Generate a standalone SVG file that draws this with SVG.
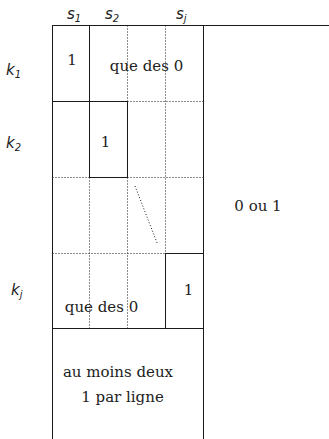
<svg xmlns="http://www.w3.org/2000/svg" width="329" height="439" viewBox="0 0 329 439">
<style>
.s{stroke:#1a1a1a;stroke-width:1;fill:none}
.d{stroke:#1a1a1a;stroke-width:1;fill:none;stroke-dasharray:1 2}
.t{font-family:'DejaVu Serif','Liberation Serif',serif;font-size:15px;fill:#222;text-anchor:middle}
.l{font-family:'DejaVu Sans','Liberation Sans',sans-serif;font-style:italic;font-size:15px;fill:#222}
.sub{font-size:10px}
</style>
<rect width="329" height="439" fill="#fff"/>
<g id="connectors">
<line class="d" x1="127.5" y1="25.5" x2="127.5" y2="101.5"/>
<line class="d" x1="165.5" y1="25.5" x2="165.5" y2="253.5"/>
<line class="d" x1="127.5" y1="101.5" x2="203.5" y2="101.5"/>
<line class="d" x1="52.5" y1="177.5" x2="89.5" y2="177.5"/>
<line class="d" x1="127.5" y1="177.5" x2="203.5" y2="177.5"/>
<line class="d" x1="89.5" y1="177.5" x2="89.5" y2="328.5"/>
<line class="d" x1="127.5" y1="177.5" x2="127.5" y2="328.5"/>
<line class="d" x1="52.5" y1="253.5" x2="165.5" y2="253.5"/>
<line class="d" x1="135" y1="186" x2="157.5" y2="244"/>
</g>
<g id="frame">
<line class="s" x1="52.5" y1="25.5" x2="329" y2="25.5"/>
<line class="s" x1="52.5" y1="25.5" x2="52.5" y2="439"/>
<line class="s" x1="203.5" y1="25.5" x2="203.5" y2="439"/>
<line class="s" x1="52.5" y1="328.5" x2="203.5" y2="328.5"/>
</g>
<g id="box-k1">
<rect class="s" x="52.5" y="25.5" width="37" height="76"/>
<text class="t" x="72" y="65">1</text>
</g>
<g id="zeros-top">
<text class="t" x="146.5" y="71">que des 0</text>
</g>
<g id="box-k2">
<rect class="s" x="89.5" y="101.5" width="38" height="76"/>
<text class="t" x="105.5" y="147">1</text>
</g>
<g id="box-kj">
<rect class="s" x="165.5" y="253.5" width="38" height="75"/>
<text class="t" x="188.5" y="295">1</text>
</g>
<g id="zeros-bottom">
<text class="t" x="101.5" y="312">que des 0</text>
</g>
<g id="zero-or-one">
<text class="t" x="258" y="211">0 ou 1</text>
</g>
<g id="bottom-block">
<text class="t" x="118" y="377">au moins deux</text>
<text class="t" x="122.5" y="402">1 par ligne</text>
</g>
<g id="col-labels">
<text class="l" x="67" y="19">s<tspan class="sub" dy="3">1</tspan></text>
<text class="l" x="105" y="19">s<tspan class="sub" dy="3">2</tspan></text>
<text class="l" x="176" y="19">s<tspan class="sub" dy="3">j</tspan></text>
</g>
<g id="row-labels">
<text class="l" x="6" y="75">k<tspan class="sub" dy="3">1</tspan></text>
<text class="l" x="6" y="148">k<tspan class="sub" dy="3">2</tspan></text>
<text class="l" x="11" y="295">k<tspan class="sub" dy="3">j</tspan></text>
</g>
</svg>
